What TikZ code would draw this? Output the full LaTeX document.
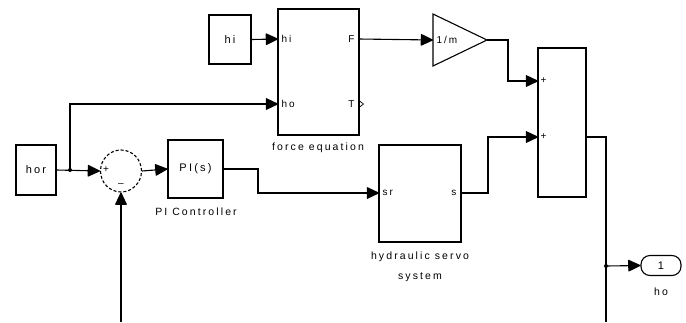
\documentclass[tikz,border=0pt]{standalone}
\usepackage{fontspec}
\setmainfont{Liberation Sans}[LetterSpace=20]
\usetikzlibrary{arrows.meta,shapes.geometric}
\begin{document}
\begin{tikzpicture}[x=1pt,y=-1pt,
  line width=1.1pt,
  arr/.style={-{Triangle[length=13pt,width=12pt,round=false]}},
  blk/.style={draw,rectangle,inner sep=0pt,font=\fontsize{11}{13}\selectfont},
  lbl/.style={inner sep=0pt,font=\fontsize{10.5}{12}\selectfont},
  port/.style={inner sep=0pt,font=\fontsize{10}{11}\selectfont},
  dot/.style={circle,fill,inner sep=0pt,minimum size=4pt}]
\useasboundingbox (0,0) rectangle (686,322);
% blocks
\node[blk,minimum width=40pt,minimum height=50pt] (hor) at (36,170) {hor};
\node[draw,ellipse,dashed,dash pattern=on 3pt off 2pt,minimum width=41pt,minimum height=42pt,inner sep=0pt] (sum) at (121,171) {};
\node[blk,minimum width=55pt,minimum height=58pt] (pi) at (195.5,169) {PI(s)};
\node[blk,minimum width=82pt,minimum height=97pt] (servo) at (420,193.5) {};
\node[blk,minimum width=48pt,minimum height=149pt] (sumb) at (562,122.5) {};
\node[blk,minimum width=42pt,minimum height=49pt] (hi) at (230,39.5) {hi};
\node[blk,minimum width=81pt,minimum height=126pt] (force) at (318.5,72) {};
\node[draw,rounded corners=9pt,minimum width=40pt,minimum height=20pt,inner sep=0pt,font=\fontsize{11}{13}\selectfont] (out) at (661,265.5) {1};
% gain triangle
\draw (433,14) -- (487,40) -- (433,66) -- cycle;
\coordinate (gin) at (433,40);
\coordinate (gout) at (487,40);
\node[port,anchor=west] (gtxt) at (436,40) {1/m};
% labels
\node[lbl] (lpi) at (196,212) {PI Controller};
\node[lbl] (lforce) at (318,148) {force equation};
\node[lbl] (lservo1) at (420,257) {hydraulic servo};
\node[lbl] (lservo2) at (420,277) {system};
\node[lbl] (lout) at (661,292) {ho};
% port texts
\node[port,anchor=west] (phi) at (281,39) {hi};
\node[port,anchor=west] (pho) at (281,104) {ho};
\node[port,anchor=east] (pF) at (355,39) {F};
\node[port,anchor=east] (pT) at (355,104) {T};
\draw[line width=0.7pt] (359,100.5) -- (363.5,104) -- (359,107.5);
\node[port,anchor=west] (psr) at (382,193) {sr};
\node[port,anchor=east] (ps) at (457,193) {s};
\node[port,anchor=west] (pp1) at (540,81) {+};
\node[port,anchor=west] (pp2) at (540,137) {+};
\node[port,anchor=west] (sp) at (102.5,170) {+};
\node[port] (sm) at (121,185) {--};
% coordinates
\coordinate (j1) at (70,170);
\coordinate (fhi) at (278,39);
\coordinate (fho) at (278,104);
\coordinate (fF) at (359,39);
\coordinate (ssr) at (379,193);
\coordinate (sso) at (461,193);
\coordinate (in1) at (538,81);
\coordinate (in2) at (538,137);
\coordinate (so) at (586,137);
\coordinate (j2) at (606,266);
\coordinate (bot1) at (606,322);
\coordinate (bot2) at (121,322);
% connectors
\draw[arr] (hor.east) -- (sum.west);
\node[dot] (d1) at (j1) {};
\draw[arr] (j1) |- (fho);
\draw[arr] (sum.east) -- (pi.west);
\draw[arr] (pi.east) -- (258,169) |- (ssr);
\draw[arr] (sso) -- (488,193) |- (in2);
\draw[arr] (hi.east) -- (fhi);
\draw[arr] (fF) -- (gin);
\draw[arr] (gout) -- (508,40) |- (in1);
\draw (so) -- (606,137) -- (bot1);
\node[dot] (d2) at (j2) {};
\draw[arr] (j2) -- (out.west);
\draw[arr] (bot2) -- (sum.south);
\end{tikzpicture}
\end{document}
